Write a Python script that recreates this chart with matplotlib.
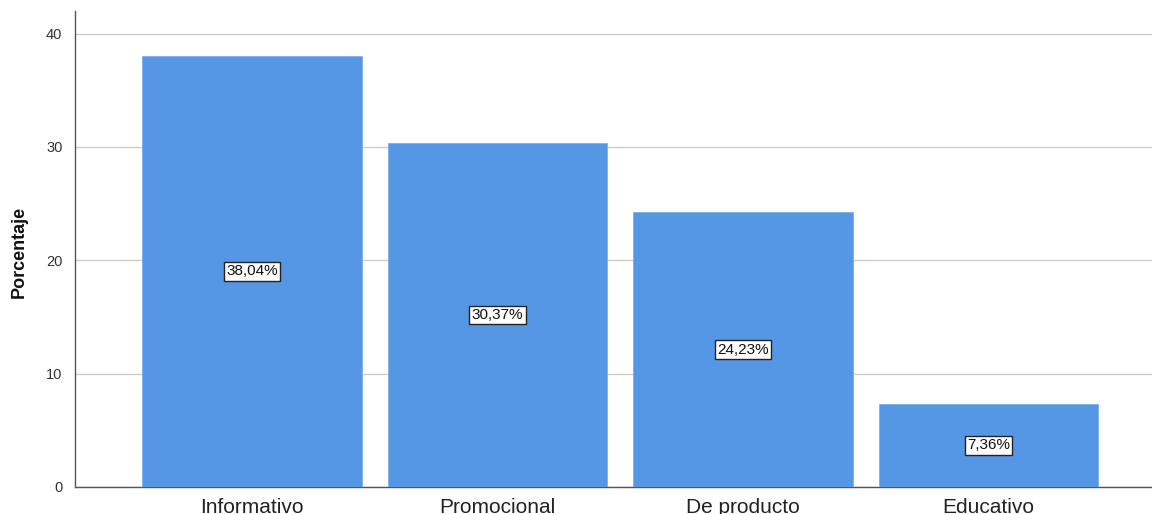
import matplotlib
matplotlib.use("Agg")
import matplotlib.pyplot as plt

categories = ["Informativo", "Promocional", "De producto", "Educativo"]
percentages = [38.04, 30.37, 24.23, 7.36]
value_labels = ["38,04%", "30,37%", "24,23%", "7,36%"]
y_ticks = [0, 10, 20, 30, 40]

plt.rcParams["font.family"] = ["Liberation Sans", "DejaVu Sans"]

fig = plt.figure(figsize=(11.52, 5.14), dpi=100)
ax = fig.add_axes([75 / 1152, 27 / 514, (1152 - 75) / 1152, (487 - 11) / 514])

x = list(range(len(categories)))
ax.bar(x, percentages, width=0.896, color="#5596e5", edgecolor="#7eaeee",
       linewidth=0.6, zorder=3)

for xi, val, lab in zip(x, percentages, value_labels):
    ax.text(xi, val / 2, lab, ha="center", va="center", fontsize=11,
            color="#111111", zorder=4,
            bbox=dict(boxstyle="square,pad=0.15", facecolor="white",
                      edgecolor="#222222", linewidth=1.0))

ax.set_xlim(-0.721, 3.666)
ax.set_ylim(0, 42.0)
ax.set_yticks(y_ticks)
ax.set_yticklabels([str(t) for t in y_ticks], fontsize=10.5, color="#333333")
ax.set_xticks(x)
ax.set_xticklabels(categories, fontsize=15, color="#222222")
ax.tick_params(axis="x", length=0, pad=8)
ax.tick_params(axis="y", length=0, pad=9)

ax.yaxis.grid(True, color="#cccccc", linewidth=1.0, zorder=0)
ax.set_axisbelow(True)

for side in ("top", "right"):
    ax.spines[side].set_visible(False)
for side in ("left", "bottom"):
    ax.spines[side].set_color("#555555")
    ax.spines[side].set_linewidth(1.0)

ax.set_ylabel("Porcentaje", fontsize=13, fontweight="bold", color="#111111")
ax.yaxis.set_label_coords(-0.044, 0.493)

fig.savefig("out.png", dpi=100)
